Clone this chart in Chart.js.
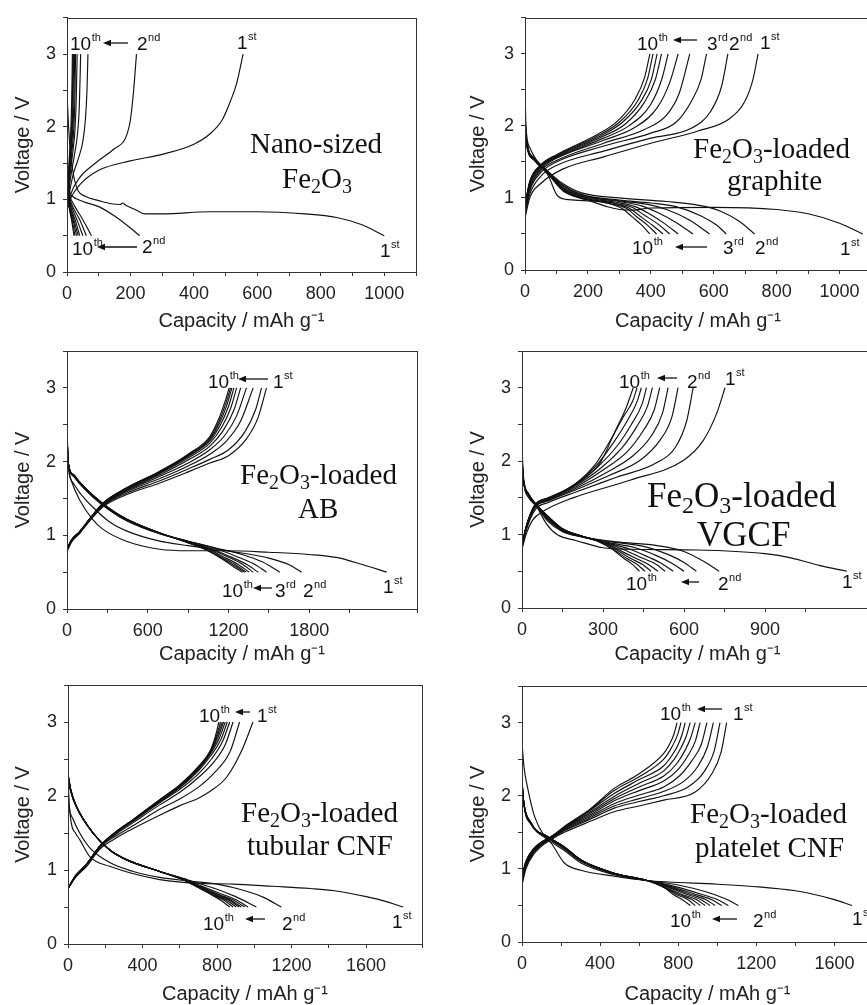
<!DOCTYPE html>
<html>
<head>
<meta charset="utf-8">
<script src="https://cdn.jsdelivr.net/npm/chart.js@4.4.1/dist/chart.umd.min.js"></script>
<style>
  html, body { margin: 0; padding: 0; background: #fff; width: 867px; height: 1005px; overflow: hidden; position: relative; }
  canvas { position: absolute; left: 0; top: 0; }
</style>
</head>
<body>
<canvas id="c1" width="900" height="1010"></canvas>
<canvas id="c2" width="900" height="1010"></canvas>
<canvas id="c3" width="900" height="1010"></canvas>
<canvas id="c4" width="900" height="1010"></canvas>
<canvas id="c5" width="900" height="1010"></canvas>
<canvas id="c6" width="900" height="1010"></canvas>
<script>
// Charge / discharge curves, cycle 1 .. 10, points are [capacity mAh/g, voltage V]

const nanoCharge = [
  [[0,0.85],[10,1.0],[40,1.2],[100,1.4],[200,1.53],[300,1.62],[400,1.76],[450,1.9],[490,2.1],[515,2.35],[535,2.6],[555,3.0]],
  [[0,0.85],[10,1.05],[40,1.3],[90,1.5],[150,1.7],[185,1.85],[200,2.1],[210,2.5],[219,3.0]],
  [[0,0.88],[8,1.1],[20,1.35],[35,1.55],[50,1.8],[58,2.1],[63,2.5],[66,3.0]],
  [[0,0.9],[5,1.1],[13,1.35],[23,1.6],[33,1.9],[39,2.3],[43,3.0]],
  [[0,0.9],[4,1.1],[10,1.35],[17,1.6],[25,1.95],[29,2.35],[32,3.0]],
  [[0,0.92],[3,1.1],[8,1.35],[14,1.6],[21,1.95],[25,2.4],[27,3.0]],
  [[0,0.92],[3,1.12],[7,1.35],[12,1.6],[18,1.95],[22,2.4],[24,3.0]],
  [[0,0.93],[2,1.1],[6,1.35],[10,1.6],[16,1.95],[19,2.4],[21,3.0]],
  [[0,0.93],[2,1.12],[5,1.35],[9,1.6],[14,1.95],[17,2.4],[19,3.0]],
  [[0,0.94],[2,1.14],[5,1.38],[8,1.6],[12,1.95],[15,2.4],[17,3.0]]
];
const nanoDischarge = [
  [[0,2.45],[5,2.0],[12,1.6],[22,1.3],[35,1.12],[59,1.04],[103,0.98],[140,0.94],[168,0.93],[175,0.95],[185,0.92],[215,0.86],[245,0.8],[300,0.8],[450,0.83],[600,0.83],[750,0.8],[850,0.75],[930,0.65],[1000,0.5]],
  [[0,2.3],[3,1.3],[15,1.05],[50,0.97],[100,0.9],[150,0.77],[190,0.64],[229,0.5]],
  [[0,2.2],[2,1.3],[8,1.05],[25,0.9],[50,0.72],[77,0.5]],
  [[0,2.2],[2,1.25],[7,1.03],[20,0.88],[40,0.72],[61,0.5]],
  [[0,2.1],[2,1.2],[6,1.02],[17,0.87],[33,0.7],[50,0.5]],
  [[0,2.1],[1,1.2],[5,1.02],[14,0.86],[27,0.7],[40,0.5]],
  [[0,2.0],[1,1.2],[4,1.02],[12,0.86],[23,0.7],[35,0.5]],
  [[0,2.0],[1,1.2],[4,1.02],[10,0.86],[20,0.7],[30,0.5]],
  [[0,2.0],[1,1.2],[3,1.02],[9,0.86],[17,0.7],[25,0.5]],
  [[0,2.0],[1,1.2],[3,1.02],[8,0.86],[15,0.7],[22,0.5]]
];

const graphiteCharge = [
  [[0,0.72],[15,1.0],[50,1.2],[120,1.4],[250,1.57],[400,1.76],[550,1.93],[650,2.1],[700,2.35],[725,2.65],[741,3.0]],
  [[0,0.78],[15,1.05],[50,1.3],[100,1.45],[250,1.65],[400,1.83],[530,1.97],[590,2.2],[625,2.55],[645,3.0]],
  [[0,0.8],[15,1.1],[50,1.35],[100,1.5],[250,1.72],[400,1.9],[480,2.05],[530,2.35],[560,2.65],[577,3.0]],
  [[0,0.82],[15,1.12],[50,1.38],[100,1.52],[250,1.76],[380,1.95],[450,2.15],[490,2.45],[524,3.0]],
  [[0,0.85],[15,1.15],[50,1.4],[100,1.55],[250,1.8],[350,1.98],[420,2.25],[460,2.6],[487,3.0]],
  [[0,0.87],[15,1.18],[50,1.42],[100,1.56],[250,1.83],[330,2.0],[400,2.3],[435,2.65],[455,3.0]],
  [[0,0.88],[15,1.2],[50,1.43],[100,1.57],[240,1.84],[320,2.03],[380,2.33],[415,2.65],[434,3.0]],
  [[0,0.89],[15,1.21],[50,1.44],[100,1.58],[240,1.86],[310,2.05],[370,2.35],[402,2.65],[420,3.0]],
  [[0,0.9],[15,1.22],[50,1.45],[100,1.59],[230,1.86],[300,2.05],[360,2.36],[390,2.66],[407,3.0]],
  [[0,0.9],[15,1.23],[50,1.46],[100,1.6],[230,1.88],[295,2.07],[350,2.37],[380,2.67],[397,3.0]]
];
const graphiteDischarge = [
  [[0,2.6],[3,2.0],[15,1.7],[40,1.5],[75,1.3],[100,1.05],[130,0.98],[200,0.96],[260,0.88],[300,0.84],[340,0.83],[400,0.86],[600,0.87],[800,0.84],[900,0.78],[1000,0.65],[1074,0.5]],
  [[0,2.2],[5,1.8],[30,1.55],[70,1.38],[120,1.2],[180,1.07],[300,1.0],[450,0.95],[550,0.9],[620,0.82],[680,0.68],[730,0.5]],
  [[0,2.1],[5,1.8],[30,1.55],[70,1.38],[120,1.18],[180,1.05],[300,0.97],[400,0.93],[480,0.88],[560,0.75],[610,0.62],[640,0.5]],
  [[0,2.1],[5,1.78],[30,1.55],[70,1.38],[120,1.17],[180,1.04],[300,0.96],[390,0.91],[450,0.84],[520,0.7],[587,0.5]],
  [[0,2.05],[5,1.77],[30,1.54],[70,1.37],[120,1.15],[180,1.03],[300,0.95],[370,0.89],[420,0.8],[480,0.66],[534,0.5]],
  [[0,2.05],[5,1.76],[30,1.54],[70,1.37],[120,1.14],[180,1.02],[290,0.94],[350,0.88],[395,0.78],[445,0.64],[487,0.5]],
  [[0,2.0],[5,1.75],[30,1.53],[70,1.36],[120,1.13],[180,1.01],[280,0.93],[340,0.87],[380,0.76],[425,0.63],[460,0.5]],
  [[0,2.0],[5,1.75],[30,1.53],[70,1.36],[120,1.12],[180,1.0],[280,0.93],[330,0.86],[365,0.75],[405,0.62],[439,0.5]],
  [[0,2.0],[5,1.74],[30,1.52],[70,1.35],[120,1.11],[180,1.0],[270,0.92],[320,0.86],[355,0.74],[390,0.62],[418,0.5]],
  [[0,2.0],[5,1.74],[30,1.52],[70,1.35],[120,1.1],[180,0.99],[270,0.92],[310,0.85],[340,0.74],[372,0.62],[397,0.5]]
];

const abCharge = [
  [[0,0.78],[30,0.9],[95,1.03],[180,1.22],[270,1.39],[440,1.55],[690,1.71],[900,1.86],[1061,1.98],[1200,2.08],[1330,2.3],[1420,2.6],[1482,3.0]],
  [[0,0.78],[30,0.9],[95,1.03],[180,1.23],[270,1.4],[440,1.57],[690,1.74],[900,1.9],[1061,2.03],[1200,2.16],[1320,2.4],[1400,2.7],[1445,3.0]],
  [[0,0.79],[30,0.91],[95,1.04],[180,1.23],[270,1.41],[440,1.59],[690,1.77],[900,1.94],[1061,2.1],[1180,2.27],[1290,2.55],[1383,3.0]],
  [[0,0.79],[30,0.91],[95,1.04],[180,1.24],[270,1.42],[440,1.6],[690,1.8],[900,1.98],[1061,2.16],[1170,2.35],[1260,2.62],[1333,3.0]],
  [[0,0.8],[30,0.92],[95,1.05],[180,1.24],[270,1.42],[440,1.61],[690,1.82],[900,2.02],[1061,2.21],[1160,2.42],[1240,2.7],[1290,3.0]],
  [[0,0.8],[30,0.92],[95,1.05],[180,1.24],[270,1.43],[440,1.62],[690,1.84],[900,2.05],[1061,2.25],[1150,2.47],[1215,2.72],[1260,3.0]],
  [[0,0.8],[30,0.92],[95,1.05],[180,1.25],[270,1.43],[440,1.63],[690,1.85],[900,2.07],[1061,2.28],[1140,2.5],[1200,2.75],[1240,3.0]],
  [[0,0.81],[30,0.93],[95,1.05],[180,1.25],[270,1.44],[440,1.635],[690,1.86],[900,2.08],[1061,2.3],[1135,2.53],[1190,2.78],[1225,3.0]],
  [[0,0.81],[30,0.93],[95,1.05],[180,1.25],[270,1.44],[440,1.64],[690,1.865],[900,2.09],[1061,2.32],[1130,2.55],[1182,2.8],[1215,3.0]],
  [[0,0.81],[30,0.93],[95,1.05],[180,1.25],[270,1.44],[440,1.64],[690,1.87],[900,2.1],[1061,2.34],[1125,2.57],[1175,2.82],[1205,3.0]]
];
const abDischarge = [
  [[0,2.7],[5,2.1],[30,1.75],[94,1.48],[193,1.21],[268,1.08],[441,0.92],[689,0.81],[900,0.79],[1200,0.79],[1500,0.77],[1800,0.74],[2000,0.7],[2200,0.6],[2374,0.5]],
  [[0,2.5],[8,2.0],[50,1.7],[94,1.58],[193,1.38],[317,1.18],[441,1.06],[689,0.92],[900,0.86],[1100,0.81],[1300,0.76],[1500,0.69],[1650,0.6],[1742,0.5]],
  [[0,2.4],[8,2.0],[50,1.8],[94,1.7],[193,1.52],[317,1.34],[441,1.2],[689,1.02],[900,0.92],[1100,0.83],[1300,0.74],[1450,0.64],[1581,0.5]],
  [[0,2.4],[8,2.0],[50,1.8],[94,1.7],[193,1.52],[317,1.34],[441,1.2],[689,1.02],[900,0.92],[1100,0.82],[1250,0.72],[1380,0.62],[1482,0.5]],
  [[0,2.4],[8,2.0],[50,1.81],[94,1.71],[193,1.53],[317,1.35],[441,1.21],[689,1.03],[900,0.91],[1050,0.83],[1200,0.72],[1330,0.61],[1420,0.5]],
  [[0,2.4],[8,2.0],[50,1.81],[94,1.71],[193,1.53],[317,1.35],[441,1.21],[689,1.03],[900,0.91],[1050,0.82],[1180,0.72],[1300,0.61],[1383,0.5]],
  [[0,2.4],[8,2.0],[50,1.82],[94,1.72],[193,1.54],[317,1.36],[441,1.22],[689,1.03],[900,0.9],[1040,0.82],[1160,0.71],[1275,0.6],[1353,0.5]],
  [[0,2.4],[8,2.0],[50,1.82],[94,1.72],[193,1.54],[317,1.36],[441,1.22],[689,1.03],[900,0.9],[1036,0.81],[1150,0.7],[1260,0.59],[1333,0.5]],
  [[0,2.4],[8,2.0],[50,1.82],[94,1.72],[193,1.54],[317,1.36],[441,1.22],[689,1.03],[900,0.9],[1036,0.8],[1150,0.69],[1250,0.58],[1321,0.5]],
  [[0,2.4],[8,2.0],[50,1.82],[94,1.72],[193,1.54],[317,1.36],[441,1.22],[689,1.03],[900,0.9],[1036,0.8],[1150,0.68],[1240,0.57],[1304,0.5]]
];

const vgcfCharge = [
  [[0,0.8],[15,1.0],[40,1.2],[80,1.32],[189,1.5],[399,1.74],[597,2.01],[671,2.28],[721,2.65],[752,3.0]],
  [[0,0.82],[15,1.05],[47,1.33],[100,1.44],[200,1.58],[350,1.78],[500,1.98],[570,2.2],[610,2.55],[634,3.0]],
  [[0,0.83],[15,1.07],[47,1.36],[100,1.46],[200,1.61],[320,1.8],[440,2.02],[510,2.28],[555,2.6],[578,3.0]],
  [[0,0.84],[15,1.08],[47,1.37],[100,1.47],[200,1.63],[310,1.84],[410,2.07],[480,2.35],[520,2.65],[541,3.0]],
  [[0,0.84],[15,1.09],[47,1.38],[100,1.48],[200,1.65],[300,1.88],[390,2.13],[450,2.42],[490,2.7],[510,3.0]],
  [[0,0.84],[15,1.09],[47,1.38],[100,1.48],[200,1.67],[290,1.9],[370,2.18],[425,2.47],[465,2.75],[483,3.0]],
  [[0,0.85],[15,1.1],[47,1.39],[100,1.49],[200,1.68],[280,1.92],[355,2.22],[405,2.5],[445,2.78],[461,3.0]],
  [[0,0.85],[15,1.1],[47,1.39],[100,1.49],[200,1.69],[275,1.94],[340,2.26],[390,2.55],[425,2.8],[442,3.0]],
  [[0,0.85],[15,1.1],[47,1.4],[100,1.5],[200,1.7],[270,1.95],[330,2.3],[375,2.6],[410,2.82],[426,3.0]],
  [[0,0.85],[15,1.1],[47,1.4],[96,1.5],[160,1.6],[220,1.74],[290,1.98],[344,2.4],[385,2.72],[412,3.0]]
];
const vgcfDischarge = [
  [[0,2.2],[5,1.8],[25,1.55],[55,1.38],[90,1.15],[130,1.0],[200,0.92],[300,0.82],[400,0.8],[650,0.79],[900,0.74],[1000,0.68],[1100,0.58],[1203,0.5]],
  [[0,2.1],[5,1.75],[25,1.5],[55,1.38],[96,1.18],[150,1.04],[220,0.97],[350,0.9],[500,0.85],[600,0.77],[680,0.62],[730,0.5]],
  [[0,2.05],[5,1.75],[25,1.52],[55,1.39],[96,1.2],[150,1.05],[220,0.97],[330,0.9],[450,0.84],[540,0.73],[600,0.62],[646,0.5]],
  [[0,2.05],[5,1.75],[25,1.53],[55,1.39],[96,1.21],[150,1.06],[220,0.97],[320,0.89],[420,0.82],[500,0.71],[555,0.61],[600,0.5]],
  [[0,2.05],[5,1.75],[25,1.53],[55,1.39],[96,1.22],[150,1.06],[220,0.97],[310,0.89],[400,0.8],[470,0.69],[520,0.6],[560,0.5]],
  [[0,2.0],[5,1.75],[25,1.54],[55,1.4],[96,1.23],[150,1.07],[220,0.98],[300,0.9],[380,0.79],[445,0.68],[495,0.6],[530,0.5]],
  [[0,2.0],[5,1.75],[25,1.54],[55,1.4],[96,1.24],[150,1.07],[220,0.98],[300,0.9],[365,0.78],[425,0.67],[470,0.59],[503,0.5]],
  [[0,2.0],[5,1.75],[25,1.55],[55,1.4],[96,1.24],[150,1.08],[220,0.98],[295,0.9],[355,0.78],[405,0.67],[448,0.59],[478,0.5]],
  [[0,2.0],[5,1.75],[25,1.55],[55,1.4],[96,1.25],[150,1.08],[220,0.98],[290,0.9],[345,0.78],[390,0.67],[428,0.59],[455,0.5]],
  [[0,2.0],[5,1.75],[25,1.55],[55,1.4],[96,1.25],[150,1.08],[220,0.98],[285,0.9],[335,0.8],[375,0.68],[410,0.59],[435,0.5]]
];

const tubularCharge = [
  [[0,0.75],[40,0.9],[100,1.05],[170,1.28],[250,1.42],[350,1.56],[492,1.74],[600,1.87],[700,1.97],[761,2.06],[850,2.25],[930,2.6],[993,3.0]],
  [[0,0.75],[40,0.9],[100,1.06],[170,1.3],[250,1.45],[350,1.6],[492,1.82],[600,1.96],[700,2.12],[780,2.3],[870,2.6],[921,3.0]],
  [[0,0.75],[40,0.91],[100,1.07],[170,1.31],[250,1.47],[350,1.64],[492,1.88],[600,2.05],[700,2.25],[780,2.45],[845,2.7],[886,3.0]],
  [[0,0.75],[40,0.91],[100,1.07],[170,1.31],[250,1.48],[350,1.66],[492,1.91],[600,2.09],[700,2.3],[770,2.5],[830,2.74],[868,3.0]],
  [[0,0.75],[40,0.91],[100,1.08],[170,1.32],[250,1.49],[350,1.67],[492,1.92],[600,2.11],[700,2.34],[765,2.54],[820,2.76],[855,3.0]],
  [[0,0.75],[40,0.92],[100,1.08],[170,1.32],[250,1.49],[350,1.67],[492,1.93],[600,2.12],[700,2.36],[762,2.56],[812,2.78],[844,3.0]],
  [[0,0.75],[40,0.92],[100,1.08],[170,1.32],[250,1.5],[350,1.68],[492,1.94],[600,2.13],[700,2.37],[761,2.57],[805,2.79],[835,3.0]],
  [[0,0.75],[40,0.92],[100,1.08],[170,1.32],[250,1.5],[350,1.68],[492,1.94],[600,2.14],[700,2.38],[761,2.58],[800,2.8],[828,3.0]],
  [[0,0.75],[40,0.92],[100,1.08],[170,1.32],[250,1.5],[350,1.68],[492,1.95],[600,2.15],[700,2.39],[761,2.59],[795,2.8],[819,3.0]],
  [[0,0.75],[40,0.92],[100,1.08],[170,1.32],[250,1.5],[350,1.68],[492,1.95],[600,2.15],[700,2.4],[761,2.6],[790,2.8],[810,3.0]]
];
const tubularDischarge = [
  [[0,2.3],[5,1.95],[18,1.63],[40,1.5],[63,1.41],[117,1.18],[224,1.05],[492,0.87],[700,0.82],[886,0.81],[1100,0.78],[1300,0.75],[1431,0.72],[1601,0.64],[1700,0.58],[1798,0.5]],
  [[0,2.2],[5,1.9],[25,1.7],[63,1.5],[117,1.3],[224,1.1],[350,0.98],[492,0.9],[650,0.85],[800,0.81],[950,0.72],[1050,0.63],[1145,0.5]],
  [[0,2.25],[15,2.06],[45,1.85],[134,1.5],[224,1.27],[313,1.14],[492,0.98],[600,0.9],[700,0.82],[800,0.74],[900,0.64],[1011,0.5]],
  [[0,2.25],[15,2.06],[45,1.85],[134,1.5],[224,1.27],[313,1.14],[492,0.98],[620,0.88],[720,0.78],[820,0.68],[900,0.6],[966,0.5]],
  [[0,2.27],[15,2.07],[45,1.86],[134,1.5],[224,1.27],[313,1.14],[492,0.98],[620,0.87],[720,0.77],[810,0.67],[890,0.59],[948,0.5]],
  [[0,2.28],[15,2.07],[45,1.86],[134,1.5],[224,1.27],[313,1.14],[492,0.98],[620,0.87],[710,0.77],[800,0.67],[875,0.59],[930,0.5]],
  [[0,2.28],[15,2.08],[45,1.86],[134,1.5],[224,1.27],[313,1.14],[492,0.98],[620,0.87],[705,0.77],[790,0.67],[865,0.59],[918,0.5]],
  [[0,2.3],[15,2.08],[45,1.86],[134,1.5],[224,1.27],[313,1.14],[492,0.98],[620,0.87],[700,0.77],[780,0.67],[852,0.59],[903,0.5]],
  [[0,2.3],[15,2.08],[45,1.86],[134,1.5],[224,1.27],[313,1.14],[492,0.98],[620,0.87],[695,0.77],[770,0.67],[838,0.59],[886,0.5]],
  [[0,2.3],[15,2.09],[45,1.86],[134,1.5],[224,1.27],[313,1.14],[492,0.98],[600,0.89],[671,0.8],[761,0.68],[820,0.59],[868,0.5]]
];

const plateletCharge = [
  [[0,0.78],[20,1.0],[60,1.2],[166,1.43],[217,1.5],[350,1.65],[472,1.78],[600,1.86],[726,1.94],[887,2.05],[972,2.3],[1020,2.6],[1048,3.0]],
  [[0,0.8],[20,1.02],[60,1.22],[166,1.44],[217,1.52],[350,1.68],[472,1.83],[600,1.92],[726,2.0],[850,2.12],[930,2.32],[985,2.62],[1014,3.0]],
  [[0,0.82],[20,1.04],[60,1.23],[166,1.45],[217,1.53],[350,1.7],[472,1.86],[600,1.96],[726,2.06],[830,2.2],[900,2.4],[950,2.67],[980,3.0]],
  [[0,0.84],[20,1.05],[60,1.24],[166,1.45],[217,1.54],[350,1.72],[472,1.89],[600,2.01],[726,2.12],[810,2.28],[870,2.48],[918,2.7],[947,3.0]],
  [[0,0.85],[20,1.06],[60,1.25],[166,1.46],[217,1.55],[350,1.74],[472,1.93],[600,2.07],[726,2.2],[800,2.36],[850,2.55],[888,2.75],[912,3.0]],
  [[0,0.86],[20,1.07],[60,1.26],[166,1.46],[217,1.56],[350,1.76],[472,1.96],[600,2.12],[726,2.27],[790,2.43],[835,2.62],[865,2.8],[887,3.0]],
  [[0,0.87],[20,1.08],[60,1.26],[166,1.46],[217,1.56],[350,1.78],[472,1.99],[600,2.17],[726,2.34],[780,2.5],[815,2.66],[842,2.82],[861,3.0]],
  [[0,0.88],[20,1.09],[60,1.27],[166,1.47],[217,1.57],[350,1.8],[472,2.03],[600,2.22],[726,2.41],[770,2.56],[800,2.7],[820,2.84],[836,3.0]],
  [[0,0.89],[20,1.1],[60,1.27],[166,1.47],[217,1.57],[350,1.81],[472,2.07],[600,2.26],[726,2.5],[760,2.63],[785,2.76],[800,2.86],[814,3.0]],
  [[0,0.9],[20,1.1],[60,1.28],[166,1.47],[217,1.58],[350,1.82],[472,2.1],[600,2.3],[726,2.58],[755,2.7],[778,2.84],[794,3.0]]
];
const plateletDischarge = [
  [[0,2.72],[10,2.4],[31,2.08],[65,1.71],[116,1.44],[150,1.35],[217,1.08],[302,0.98],[472,0.9],[641,0.84],[751,0.82],[1000,0.79],[1226,0.75],[1400,0.7],[1481,0.66],[1600,0.58],[1690,0.5]],
  [[0,2.3],[5,2.0],[48,1.6],[132,1.4],[217,1.25],[302,1.08],[472,0.92],[641,0.84],[800,0.78],[950,0.68],[1050,0.58],[1108,0.5]],
  [[0,2.25],[5,2.0],[48,1.61],[132,1.42],[217,1.27],[302,1.1],[472,0.93],[641,0.84],[780,0.76],[910,0.66],[1000,0.58],[1057,0.5]],
  [[0,2.25],[5,2.0],[48,1.61],[132,1.43],[217,1.28],[302,1.11],[472,0.93],[641,0.84],[760,0.76],[880,0.66],[970,0.58],[1023,0.5]],
  [[0,2.2],[5,2.0],[48,1.62],[132,1.43],[217,1.28],[302,1.11],[472,0.94],[641,0.84],[745,0.76],[855,0.66],[940,0.58],[989,0.5]],
  [[0,2.2],[5,2.0],[48,1.62],[132,1.44],[217,1.29],[302,1.12],[472,0.94],[641,0.84],[735,0.76],[835,0.66],[915,0.58],[963,0.5]],
  [[0,2.2],[5,2.0],[48,1.62],[132,1.44],[217,1.29],[302,1.12],[472,0.94],[641,0.84],[730,0.75],[820,0.65],[893,0.58],[938,0.5]],
  [[0,2.2],[5,2.0],[48,1.62],[132,1.44],[217,1.3],[302,1.12],[472,0.94],[641,0.84],[726,0.75],[805,0.65],[870,0.58],[913,0.5]],
  [[0,2.2],[5,2.0],[48,1.62],[132,1.44],[217,1.3],[302,1.12],[472,0.94],[641,0.84],[726,0.75],[790,0.65],[848,0.58],[887,0.5]],
  [[0,2.2],[5,2.0],[48,1.62],[132,1.44],[217,1.3],[302,1.12],[472,0.94],[641,0.84],[726,0.75],[775,0.65],[825,0.57],[862,0.5]]
];

// axis ranges and tick steps, one entry per panel
const xMax   = [1100, 1100, 2600, 1300, 1900, 1900];
const xMajor = [200, 200, 600, 300, 400, 400];
const xMinor = [100, 100, 300, 150, 200, 200];
const yMax = 3.5;

// text labels drawn on each panel (page pixel positions)
const nanoNotes = [
  ['ord', 70, 50, '10', 'th'], ['arrow', 128, 43, 103, 43], ['ord', 137, 50, '2', 'nd'], ['ord', 237, 49, '1', 'st'],
  ['ord', 72, 255, '10', 'th'], ['arrow', 137, 247, 97, 247], ['ord', 142, 253, '2', 'nd'], ['ord', 380, 257, '1', 'st'],
  ['serif', 250, 153, 'Nano-sized', 29], ['fe', 282, 188, '', 29]
];
const graphiteNotes = [
  ['ord', 637, 50, '10', 'th'], ['arrow', 697, 40, 673, 40], ['ord', 707, 50, '3', 'rd'], ['ord', 729, 50, '2', 'nd'], ['ord', 760, 49, '1', 'st'],
  ['ord', 632, 254, '10', 'th'], ['arrow', 707, 247, 675, 247], ['ord', 723, 254, '3', 'rd'], ['ord', 755, 254, '2', 'nd'], ['ord', 840, 255, '1', 'st'],
  ['fe', 693, 158, '-loaded', 29], ['serif', 727, 190, 'graphite', 29]
];
const abNotes = [
  ['ord', 208, 388, '10', 'th'], ['arrow', 268, 379, 238, 379], ['ord', 273, 388, '1', 'st'],
  ['ord', 222, 597, '10', 'th'], ['arrow', 272, 588, 253, 588], ['ord', 275, 597, '3', 'rd'], ['ord', 303, 597, '2', 'nd'], ['ord', 383, 593, '1', 'st'],
  ['fe', 240, 484, '-loaded', 29], ['serif', 298, 518, 'AB', 29]
];
const vgcfNotes = [
  ['ord', 619, 388, '10', 'th'], ['arrow', 677, 378, 657, 378], ['ord', 687, 388, '2', 'nd'], ['ord', 725, 385, '1', 'st'],
  ['ord', 626, 590, '10', 'th'], ['arrow', 699, 582, 681, 582], ['ord', 718, 590, '2', 'nd'], ['ord', 842, 588, '1', 'st'],
  ['fe', 647, 507, '-loaded', 35], ['serif', 697, 546, 'VGCF', 35]
];
const tubularNotes = [
  ['ord', 199, 722, '10', 'th'], ['arrow', 250, 712, 235, 712], ['ord', 257, 722, '1', 'st'],
  ['ord', 203, 930, '10', 'th'], ['arrow', 265, 919, 245, 919], ['ord', 282, 930, '2', 'nd'], ['ord', 392, 928, '1', 'st'],
  ['fe', 241, 822, '-loaded', 29], ['serif', 247, 855, 'tubular CNF', 29]
];
const plateletNotes = [
  ['ord', 660, 720, '10', 'th'], ['arrow', 722, 709, 697, 709], ['ord', 733, 720, '1', 'st'],
  ['ord', 670, 927, '10', 'th'], ['arrow', 737, 919, 712, 919], ['ord', 753, 927, '2', 'nd'], ['ord', 852, 925, '1', 'st'],
  ['fe', 690, 823, '-loaded', 29], ['serif', 695, 857, 'platelet CNF', 29]
];

// plot boxes on the page: [left, top, right, bottom], plus axis title centres
const panels = [
  { id: 'c1', charge: nanoCharge,     discharge: nanoDischarge,     box: [67, 14, 416, 272],  yTitleX: 23,  xTitleY: 321, notes: nanoNotes },
  { id: 'c2', charge: graphiteCharge, discharge: graphiteDischarge, box: [525, 14, 871, 270], yTitleX: 478, xTitleY: 321, notes: graphiteNotes },
  { id: 'c3', charge: abCharge,       discharge: abDischarge,       box: [67, 351, 417, 609], yTitleX: 23,  xTitleY: 654, notes: abNotes },
  { id: 'c4', charge: vgcfCharge,     discharge: vgcfDischarge,     box: [522, 351, 873, 608], yTitleX: 478, xTitleY: 654, notes: vgcfNotes },
  { id: 'c5', charge: tubularCharge,  discharge: tubularDischarge,  box: [68, 685, 422, 944], yTitleX: 23,  xTitleY: 994, notes: tubularNotes },
  { id: 'c6', charge: plateletCharge, discharge: plateletDischarge, box: [522, 686, 896, 942], yTitleX: 478, xTitleY: 994, notes: plateletNotes }
];

const SANS = '"Liberation Sans", Arial, sans-serif';
const SERIF = '"Liberation Serif", "Times New Roman", serif';
const INK = '#111';
const CANVAS_W = 900, CANVAS_H = 1010;
const TITLE_SIZE = 20, TITLE_HALF = TITLE_SIZE * 1.2 / 2;

function drawNote(ctx, n) {
  ctx.fillStyle = INK;
  ctx.strokeStyle = INK;
  ctx.textBaseline = 'alphabetic';
  ctx.textAlign = 'left';
  if (n[0] === 'arrow') {
    const [, x1, y1, x2, y2] = n;
    ctx.lineWidth = 1.3;
    ctx.beginPath();
    ctx.moveTo(x1, y1);
    ctx.lineTo(x2 + 5, y2);
    ctx.stroke();
    ctx.beginPath();
    ctx.moveTo(x2, y2);
    ctx.lineTo(x2 + 8, y2 - 3.2);
    ctx.lineTo(x2 + 8, y2 + 3.2);
    ctx.closePath();
    ctx.fill();
  } else if (n[0] === 'ord') {
    const [, x, y, num, suf] = n;
    ctx.font = '19px ' + SANS;
    ctx.fillText(num, x, y);
    const w = ctx.measureText(num).width;
    ctx.font = '11px ' + SANS;
    ctx.fillText(suf, x + w + 0.5, y - 9);
  } else if (n[0] === 'serif') {
    const [, x, y, text, size] = n;
    ctx.font = size + 'px ' + SERIF;
    ctx.fillText(text, x, y);
  } else if (n[0] === 'fe') {
    const [, x, y, suffix, size] = n;
    const big = size + 'px ' + SERIF;
    const small = Math.round(size * 0.68) + 'px ' + SERIF;
    const drop = size * 0.16;
    const parts = [['Fe', big, 0], ['2', small, drop], ['O', big, 0], ['3', small, drop], [suffix, big, 0]];
    let cx = x;
    for (const [t, f, dy] of parts) {
      if (!t) continue;
      ctx.font = f;
      ctx.fillText(t, cx, y + dy);
      cx += ctx.measureText(t).width;
    }
  }
}

const panelDecor = {
  id: 'panelDecor',
  afterDraw(chart, args, opts) {
    const ctx = chart.ctx;
    const a = chart.chartArea;
    ctx.save();
    ctx.strokeStyle = '#333';
    ctx.lineWidth = 1;
    ctx.strokeRect(Math.round(a.left) + 0.5, Math.round(a.top) + 0.5, Math.round(a.right - a.left), Math.round(a.bottom - a.top));
    (opts.notes || []).forEach(n => drawNote(ctx, n));
    ctx.restore();
  }
};

panels.forEach((p, i) => {
  const [left, top, right, bottom] = p.box;
  const padLeft = p.yTitleX - TITLE_HALF;
  const yWidth = left - padLeft;
  const xHeight = p.xTitleY + TITLE_HALF - bottom;
  const padBottom = CANVAS_H - bottom - xHeight;

  const curves = p.charge.concat(p.discharge);
  const datasets = curves.map(c => ({
    data: c,
    showLine: true,
    borderColor: INK,
    borderWidth: 1.15,
    pointRadius: 0,
    pointHoverRadius: 0,
    fill: false,
    cubicInterpolationMode: 'monotone'
  }));

  const tickFont = { family: SANS, size: 18 };
  const titleFont = { family: SANS, size: TITLE_SIZE };

  new Chart(document.getElementById(p.id), {
    type: 'scatter',
    data: { datasets: datasets },
    options: {
      responsive: false,
      animation: false,
      devicePixelRatio: 1,
      events: [],
      layout: { padding: { left: padLeft, top: top, right: CANVAS_W - right, bottom: padBottom } },
      plugins: {
        legend: { display: false },
        tooltip: { enabled: false },
        panelDecor: { notes: p.notes }
      },
      scales: {
        x: {
          type: 'linear',
          min: 0,
          max: xMax[i],
          afterFit: s => { s.height = xHeight; },
          ticks: {
            stepSize: xMinor[i],
            autoSkip: false,
            maxRotation: 0,
            padding: 7,
            color: '#222',
            font: tickFont,
            callback: v => (v % xMajor[i] === 0 ? String(v) : '')
          },
          grid: { display: true, drawOnChartArea: false, drawTicks: true, tickLength: 4, color: '#333' },
          border: { display: true, color: '#333', width: 1 },
          title: { display: true, text: 'Capacity / mAh g\u207B\u00B9', color: '#222', font: titleFont, padding: 0 }
        },
        y: {
          type: 'linear',
          min: 0,
          max: yMax,
          afterFit: s => { s.width = yWidth; },
          ticks: {
            stepSize: 0.5,
            autoSkip: false,
            padding: 7,
            color: '#222',
            font: tickFont,
            callback: v => (Number.isInteger(v) ? String(v) : '')
          },
          grid: { display: true, drawOnChartArea: false, drawTicks: true, tickLength: 4, color: '#333' },
          border: { display: true, color: '#333', width: 1 },
          title: { display: true, text: 'Voltage / V', color: '#222', font: titleFont, padding: 0 }
        }
      }
    },
    plugins: [panelDecor]
  });
});
</script>
</body>
</html>
